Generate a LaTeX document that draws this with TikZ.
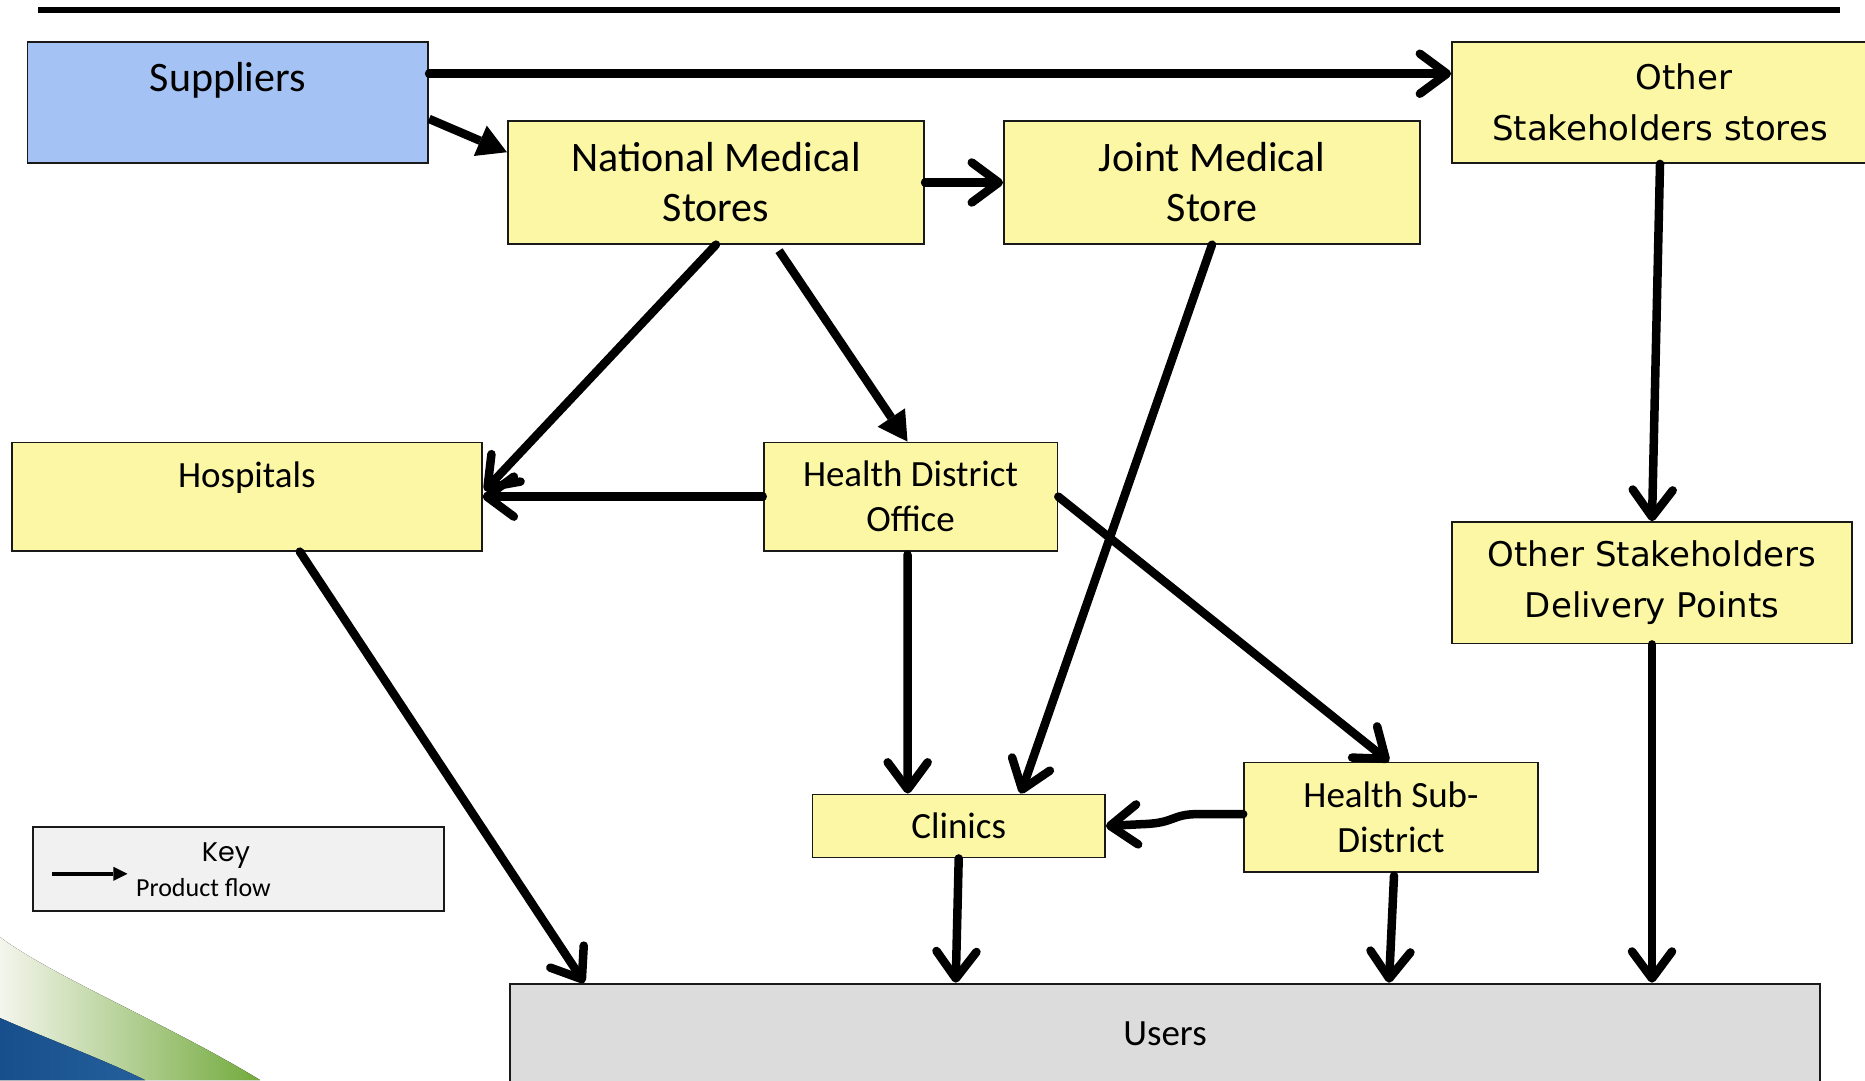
\documentclass[tikz,border=0pt]{standalone}
\usepackage{fontspec}
\setmainfont{Carlito}
\newfontfamily\verd{DejaVu Sans}
\newfontfamily\geo{Poppins}
\usetikzlibrary{arrows.meta,calc}
\definecolor{boxyellow}{HTML}{FBF7A5}
\definecolor{supblue}{HTML}{A4C2F4}
\definecolor{usergray}{HTML}{DCDCDC}
\definecolor{keygray}{HTML}{F1F1F1}
\definecolor{swblueA}{HTML}{174F8C}
\definecolor{swblueB}{HTML}{245F9C}
\definecolor{swgreen}{HTML}{72AA3C}
\definecolor{swpale}{HTML}{F4F5EC}
\begin{document}
\begin{tikzpicture}[x=1pt,y=-1pt,
  box/.style={draw=black!90, line width=1.8pt, fill=boxyellow, inner sep=0pt, align=center},
  bigtxt/.style={font=\fontsize{42}{50}\selectfont},
  midtxt/.style={font=\fontsize{37}{45}\selectfont},
  vtxt/.style={font=\verd\fontsize{34}{51}\selectfont},
  flow/.style={line width=8.5pt, line cap=round, -{Straight Barb[length=27pt,width=40pt,round]}},
  flowtri/.style={line width=8.5pt, -{Triangle[length=29pt,width=33pt,line width=0pt]}},
  keyarrow/.style={line width=4pt, -{Triangle[length=14pt,width=14pt,line width=0pt]}}
]
\useasboundingbox (0,0) rectangle (1865,1080);

% corner swoosh
\fill[left color=swpale, right color=swgreen]
  (0,937) .. controls (50,975) and (170,1025) .. (260,1080) -- (0,1080) -- cycle;
\fill[left color=swblueA, right color=swblueB]
  (0,1018) .. controls (50,1040) and (100,1058) .. (145,1080) -- (0,1080) -- cycle;

% title rule
\draw[line width=6pt] (38,10) -- (1840,10);

% boxes
\node[box, bigtxt, fill=supblue, minimum width=400.8pt, minimum height=121.4pt] (sup) at (227.8,102.3) {Suppliers\\[-14pt]\strut};
\node[box, vtxt, minimum width=416pt, minimum height=121.4pt] (oss) at (1660,102.3) {\hspace*{48pt}Other\\Stakeholders stores};
\node[box, bigtxt, minimum width=416.3pt, minimum height=122.5pt] (nms) at (716,182.5) {National Medical\\Stores};
\node[box, bigtxt, minimum width=416.2pt, minimum height=122.5pt] (jms) at (1212,182.5) {Joint Medical\\Store};
\node[box, midtxt, minimum width=469.8pt, minimum height=108.2pt] (hosp) at (246.8,496.6) {Hospitals\\[-14pt]\strut};
\node[box, midtxt, minimum width=293.8pt, minimum height=108.2pt] (hdo) at (910.5,496.6) {Health District\\Office};
\node[box, vtxt, minimum width=399.5pt, minimum height=121.4pt] (osdp) at (1652,582.8) {Other Stakeholders\\Delivery Points};
\node[box, midtxt, minimum width=292.6pt, minimum height=63.1pt] (clin) at (958.7,826) {Clinics};
\node[box, midtxt, minimum width=293.8pt, minimum height=109.4pt] (hsd) at (1391,817.1) {Health Sub-\\District};
\node[box, midtxt, fill=usergray, minimum width=1309.7pt, minimum height=100pt] (users) at (1165,1033.6) {Users};

% key
\node[draw=black!90, line width=1.8pt, fill=keygray, minimum width=410.3pt, minimum height=84.4pt] (key) at (238.5,868.8) {};
\node[font=\geo\fontsize{27}{32}\selectfont, inner sep=0pt] (keyhead) at ($(key.center)+(-12.5,-13)$) {Key};
\node[font=\fontsize{26}{31}\selectfont, inner sep=0pt, anchor=west] (keytext) at ($(key.west)+(103.5,18.5)$) {Product flow};
\draw[keyarrow] ($(key.west)+(20,5)$) -- ($(key.west)+(95,5)$);

% product flows
\draw[flow] ($(sup.east)+(0,-28.6)$) -- ($(oss.west)+(0,-28.6)$);
\draw[flowtri] ($(sup.east)+(0,16.6)$) -- ($(nms.west)+(0,-30.3)$);
\draw[flow] (nms.east) -- (jms.west);
\draw[flow] (nms.south) -- ($(hosp.east)+(2,-6)$);
\draw[flowtri] ($(nms.south)+(63,6)$) -- ($(hdo.north)+(-3,0)$);
\draw[flow] (hdo.west) -- (hosp.east);
\draw[flow] (jms.south) -- ($(clin.north)+(62,0)$);
\draw[flow] ($(hdo.south)+(-3,3)$) -- ($(clin.north)+(-51,0)$);
\draw[flow] (hdo.east) -- ($(hsd.north)+(-2,0)$);
\draw[flow] (oss.south) -- (osdp.north);
\draw[flow] (osdp.south) -- (osdp.south |- users.north);
\draw[flow] ($(hosp.south)+(53,0)$) -- ($(users.north west)+(75,0)$);
\draw[flow] (clin.south) -- ($(clin.south |- users.north)+(-3,0)$);
\draw[flow] ($(hsd.south)+(3,3)$) -- ($(hsd.south |- users.north)+(-2,0)$);
\draw[flow] ($(hsd.west)+(0,-3)$) -- ($(hsd.west)+(-45,-3)$)
  .. controls ($(hsd.west)+(-72,-3)$) and ($(hsd.west)+(-68,6)$) .. ($(hsd.west)+(-100,7)$)
  -- (clin.east);
\end{tikzpicture}
\end{document}
